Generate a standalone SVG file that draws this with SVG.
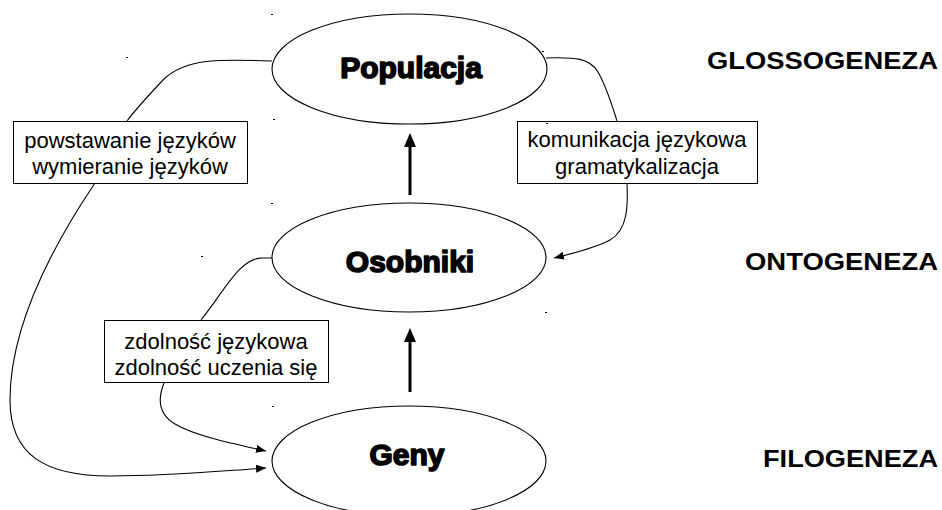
<svg xmlns="http://www.w3.org/2000/svg" width="942" height="510" viewBox="0 0 942 510">
<defs>
<style>
.ell{fill:none;stroke:#000;stroke-width:1.1}
.node{font-family:"Liberation Sans",Arial,sans-serif;font-weight:bold;font-size:30px;fill:#000;stroke:#000;stroke-width:1.6;stroke-linejoin:round;text-anchor:middle}
.lvl{font-family:"Liberation Sans",Arial,sans-serif;font-weight:bold;font-size:24px;fill:#000}
.box{fill:#fff;stroke:#000;stroke-width:1}
.lbl{font-family:"Liberation Sans",Arial,sans-serif;font-size:22px;fill:#000;text-anchor:middle}
.con{fill:none;stroke:#000;stroke-width:1.1}
.thick{stroke:#000;stroke-width:3}
.dot{fill:#000}
</style>
<marker id="ah" viewBox="0 0 10 8" refX="10" refY="4" markerWidth="10" markerHeight="8" markerUnits="userSpaceOnUse" orient="auto">
<path d="M0,0 L10,4 L0,8 Z" fill="#000"/>
</marker>
</defs>
<rect width="942" height="510" fill="#fff"/>

<g id="connectors">
<path class="con" d="M272,61 C220,59 185,58 163,80 C148,96 135,110 127,121"/>
<path class="con" d="M95,183 C60,235 10,320 10,400 C10,455 45,476 110,476 C170,476 220,471 266,468" marker-end="url(#ah)"/>
<path class="con" d="M546,58 C575,57 590,58 598,72 C607,88 612,105 617,121"/>
<path class="con" d="M627,183 C628,205 628,230 610,240 C595,248 575,253 554,258" marker-end="url(#ah)"/>
<path class="con" d="M201,320 C225,290 240,258 262,258 L272,258"/>
<path class="con" d="M164,383 C158,398 158,414 175,424 C195,436 235,444 266,451" marker-end="url(#ah)"/>
<line class="thick" x1="410" y1="195" x2="410" y2="145"/>
<polygon points="404,147 416,147 410,133" fill="#000"/>
<line class="thick" x1="410" y1="392" x2="410" y2="340"/>
<polygon points="404,342 416,342 410,328" fill="#000"/>
</g>

<g id="populacja">
<ellipse class="ell" cx="409.5" cy="69" rx="137.5" ry="55"/>
<text class="node" x="411" y="78">Populacja</text>
</g>
<g id="osobniki">
<ellipse class="ell" cx="409" cy="257.5" rx="137" ry="54.5"/>
<text class="node" x="410" y="272">Osobniki</text>
</g>
<g id="geny">
<ellipse class="ell" cx="409" cy="461" rx="137" ry="55"/>
<text class="node" x="407" y="465">Geny</text>
</g>

<g id="label-powstawanie">
<rect class="box" x="13.5" y="121.5" width="234" height="62"/>
<text class="lbl" x="130" y="148">powstawanie języków</text>
<text class="lbl" x="130" y="174">wymieranie języków</text>
</g>
<g id="label-komunikacja">
<rect class="box" x="517.5" y="121.5" width="240" height="62"/>
<text class="lbl" x="637" y="147">komunikacja językowa</text>
<text class="lbl" x="637" y="174">gramatykalizacja</text>
</g>
<g id="label-zdolnosc">
<rect class="box" x="104.5" y="320.5" width="224" height="62"/>
<text class="lbl" x="216" y="349">zdolność językowa</text>
<text class="lbl" x="216" y="375">zdolność uczenia się</text>
</g>

<g id="levels">
<text class="lvl" x="707" y="69" textLength="231" lengthAdjust="spacingAndGlyphs">GLOSSOGENEZA</text>
<text class="lvl" x="745" y="270" textLength="193" lengthAdjust="spacingAndGlyphs">ONTOGENEZA</text>
<text class="lvl" x="763" y="467" textLength="175" lengthAdjust="spacingAndGlyphs">FILOGENEZA</text>
</g>

<g id="marks">
<rect class="dot" x="271" y="14" width="2" height="1"/>
<rect class="dot" x="126" y="57" width="2" height="1"/>
<rect class="dot" x="273" y="119" width="2" height="1"/>
<rect class="dot" x="542" y="51" width="2" height="1"/>
<rect class="dot" x="546" y="123" width="2" height="1"/>
<rect class="dot" x="271" y="203" width="2" height="1"/>
<rect class="dot" x="201" y="256" width="2" height="1"/>
<rect class="dot" x="545" y="312" width="2" height="1"/>
<rect class="dot" x="272" y="406" width="2" height="1"/>
</g>
</svg>
